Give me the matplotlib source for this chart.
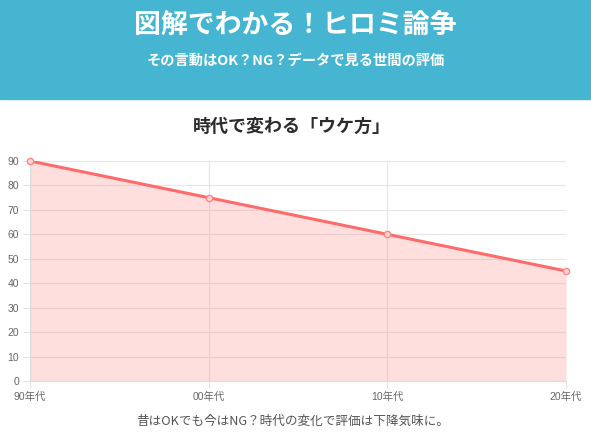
import matplotlib
matplotlib.use("Agg")
import matplotlib.pyplot as plt
from matplotlib.patches import Rectangle

plt.rcParams['font.family'] = ['Noto Sans CJK JP', 'DejaVu Sans']

# data
eras = ['90年代', '00年代', '10年代', '20年代']
scores = [90, 75, 60, 45]
y_ticks = list(range(0, 100, 10))

title = '図解でわかる！ヒロミ論争'
subtitle = 'その言動はOK？NG？データで見る世間の評価'
chart_title = '時代で変わる「ウケ方」'
caption = '昔はOKでも今はNG？時代の変化で評価は下降気味に。'

W, H = 591, 437
fig = plt.figure(figsize=(W / 100, H / 100), dpi=100)

# header band
fig.patches.append(Rectangle((0, 1 - 99 / H), 1, 99 / H, transform=fig.transFigure,
                             color='#46b5d1', zorder=0))
fig.text(0.5, 1 - 25 / H, title, ha='center', va='center', color='white',
         fontsize=19.4, fontweight='bold')
fig.text(0.5, 1 - 61 / H, subtitle, ha='center', va='center', color='white',
         fontsize=10.3, fontweight='bold')
fig.text(0.494, 1 - 126 / H, chart_title, ha='center', va='center', color='#2c2c2c',
         fontsize=13, fontweight='bold')
fig.text(0.496, 1 - 421 / H, caption, ha='center', va='center', color='#555555',
         fontsize=9.1)

left, right, top, bottom = 30, 566, 161, 381
ax = fig.add_axes([left / W, 1 - bottom / H, (right - left) / W, (bottom - top) / H])

x = list(range(len(eras)))
ax.fill_between(x, scores, 0, color='#ff6b6b', alpha=0.22, linewidth=0, zorder=1)
ax.plot(x, scores, color='#ff6b6b', linewidth=2.2, zorder=3)
ax.plot(x, scores, linestyle='none', zorder=4, marker='o', markersize=4.5,
        markerfacecolor='#ffd6d6', markeredgecolor='#ff8585', markeredgewidth=1,
        clip_on=False)

ax.set_xlim(0, len(eras) - 1)
ax.set_ylim(0, 90)
ax.set_xticks(x)
ax.set_xticklabels(eras)
ax.set_yticks(y_ticks)
ax.grid(True, color='#e6e6e6', linewidth=0.8, zorder=0)
ax.set_axisbelow(True)
for s in ['top', 'right']:
    ax.spines[s].set_visible(False)
for s in ['left', 'bottom']:
    ax.spines[s].set_color('#dddddd')
ax.tick_params(axis='both', length=5, color='#e0e0e0', colors='#666666',
               labelsize=7.5, pad=3)
for lab in ax.get_xticklabels() + ax.get_yticklabels():
    lab.set_fontfamily(['Liberation Sans', 'Noto Sans CJK JP'])
    lab.set_color('#666666')

fig.savefig('out.png', dpi=100)
